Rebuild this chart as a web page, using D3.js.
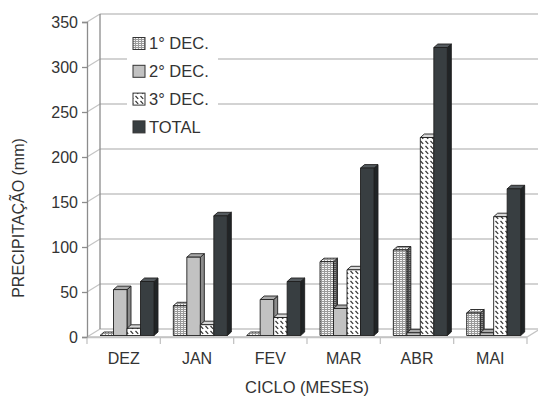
<!DOCTYPE html>
<html>
<head>
<meta charset="utf-8">
<script src="https://cdn.jsdelivr.net/npm/d3@7"></script>
<style>
  html, body { margin: 0; padding: 0; background: #fff; }
  svg { display: block; font-family: "Liberation Sans", Arial, sans-serif; }
</style>
</head>
<body>
<svg id="chart" width="538" height="396"></svg>
<script>
// Monthly rainfall by ten-day period (decêndio) and monthly total, mm
const months = ["DEZ", "JAN", "FEV", "MAR", "ABR", "MAI"];
const seriesNames = ["1° DEC.", "2° DEC.", "3° DEC.", "TOTAL"];
const dec1  = [0, 33, 0, 82, 95, 25];
const dec2  = [51, 87, 40, 30, 3, 3];
const dec3  = [8, 12, 20, 73, 220, 132];
const total = [60, 133, 60, 186, 320, 163];
const yTicks = [0, 50, 100, 150, 200, 250, 300, 350];

const seriesValues = [dec1, dec2, dec3, total];

const svg = d3.select("#chart");
const defs = svg.append("defs");

// fill patterns
const p1 = defs.append("pattern").attr("id", "pat1").attr("patternUnits", "userSpaceOnUse")
  .attr("width", 3).attr("height", 2);
p1.append("rect").attr("width", 3).attr("height", 2).attr("fill", "#9a9a9a");
p1.append("rect").attr("x", 1).attr("y", 0).attr("width", 2).attr("height", 1).attr("fill", "#f6f6f6");

const p1s = defs.append("pattern").attr("id", "pat1s").attr("patternUnits", "userSpaceOnUse")
  .attr("width", 3).attr("height", 2);
p1s.append("rect").attr("width", 3).attr("height", 2).attr("fill", "#4a4a4a");
p1s.append("rect").attr("x", 1).attr("y", 0).attr("width", 2).attr("height", 1).attr("fill", "#8a8a8a");

const p3 = defs.append("pattern").attr("id", "pat3").attr("patternUnits", "userSpaceOnUse")
  .attr("width", 5).attr("height", 5);
p3.append("rect").attr("width", 5).attr("height", 5).attr("fill", "#ffffff");
p3.append("path").attr("d", "M0.5,1 L3.2,3.8").attr("stroke", "#333").attr("stroke-width", 1.2);

const p3s = defs.append("pattern").attr("id", "pat3s").attr("patternUnits", "userSpaceOnUse")
  .attr("width", 5).attr("height", 5);
p3s.append("rect").attr("width", 5).attr("height", 5).attr("fill", "#9a9a9a");
p3s.append("path").attr("d", "M0.5,1 L3.2,3.8").attr("stroke", "#333").attr("stroke-width", 1.2);

const styles = [
  { front: "url(#pat1)", top: "url(#pat1)", side: "url(#pat1s)" },
  { front: "#c2c2c2", top: "#a9a9a9", side: "#8c8c8c" },
  { front: "url(#pat3)", top: "#d8d8d8", side: "url(#pat3s)" },
  { front: "#383e41", top: "#545a5e", side: "#202426" }
];

// layout
const left = 87, right = 527, yBottom = 337, yTop = 22;
const depthX = 13, depthY = -8;     // wall depth
const barShiftX = 0, barShiftY = -1.5;
const barDX = 4, barDY = -3.5;      // bar depth

const x = d3.scaleBand().domain(months).range([left, right]);
const xs = d3.scaleBand().domain(seriesNames).range([13, 67]);
const y = d3.scaleLinear().domain([0, 350]).range([yBottom, yTop]);

const gridColor = "#c4c4c4", axisColor = "#8c8c8c", textColor = "#333";

// back wall gridlines and left wall
const grid = svg.append("g");
yTicks.forEach(v => {
  const yy = y(v);
  grid.append("line").attr("x1", left).attr("y1", yy).attr("x2", left + depthX).attr("y2", yy + depthY)
    .attr("stroke", gridColor).attr("stroke-width", 1.3);
  grid.append("line").attr("x1", left + depthX).attr("y1", yy + depthY).attr("x2", 540).attr("y2", yy + depthY)
    .attr("stroke", gridColor).attr("stroke-width", 1.5);
});
grid.append("line").attr("x1", left + depthX).attr("x2", left + depthX)
  .attr("y1", y(0) + depthY).attr("y2", y(350) + depthY)
  .attr("stroke", axisColor).attr("stroke-width", 1.3);

// floor
svg.append("path")
  .attr("d", `M${left},${yBottom} L${right},${yBottom} L${right + depthX},${yBottom + depthY}`)
  .attr("fill", "none").attr("stroke", gridColor).attr("stroke-width", 1.3);

// y axis
const yAxis = svg.append("g").attr("transform", `translate(${left},0)`)
  .call(d3.axisLeft(y).tickValues(yTicks).tickSize(5).tickPadding(4).tickFormat(d3.format("d")));
yAxis.select(".domain").attr("stroke", axisColor).attr("stroke-width", 1.3);
yAxis.selectAll(".tick line").attr("stroke", axisColor).attr("stroke-width", 1.3);
yAxis.selectAll(".tick text").attr("fill", textColor).style("font-size", "16px")
  .style("font-family", "'Liberation Sans', Arial, sans-serif");

// x axis
const xAxis = svg.append("g").attr("transform", `translate(0,${yBottom})`)
  .call(d3.axisBottom(x).tickSize(0).tickPadding(16));
xAxis.select(".domain").attr("stroke", gridColor).attr("stroke-width", 1.3);
xAxis.selectAll(".tick text").attr("fill", textColor).style("font-size", "16px")
  .style("font-family", "'Liberation Sans', Arial, sans-serif");
const bounds = months.map(m => x(m)).concat([right]);
xAxis.selectAll(".sep").data(bounds).join("line").attr("class", "sep")
  .attr("x1", d => d).attr("x2", d => d).attr("y1", 1).attr("y2", 7)
  .attr("stroke", gridColor).attr("stroke-width", 1.3);

// legend
const legend = svg.append("g");
legend.append("rect").attr("x", 127).attr("y", 29).attr("width", 91).attr("height", 112).attr("fill", "#fff");
seriesNames.forEach((name, i) => {
  const cy = 43.5 + i * 27.8;
  legend.append("rect").attr("x", 133).attr("y", cy - 6).attr("width", 12).attr("height", 12)
    .attr("fill", styles[i].front).attr("stroke", "#333").attr("stroke-width", 1);
  legend.append("text").attr("x", 149).attr("y", cy).attr("dy", "0.35em")
    .attr("fill", textColor).style("font-size", "16.5px").text(name);
});

// 3D bars
const bars = svg.append("g");
months.forEach((m, mi) => {
  seriesNames.forEach((s, si) => {
    const v = seriesValues[si][mi];
    const x0 = x(m) + xs(s) + barShiftX;
    const w = xs.bandwidth();
    const base = y(0) + barShiftY;
    const top = y(v) + barShiftY;
    const g = bars.append("g").attr("stroke", "#1f1f1f").attr("stroke-width", 0.9).attr("stroke-linejoin", "round");
    g.append("path")
      .attr("d", `M${x0 + w},${top} L${x0 + w + barDX},${top + barDY} L${x0 + w + barDX},${base + barDY} L${x0 + w},${base} Z`)
      .attr("fill", styles[si].side);
    g.append("path")
      .attr("d", `M${x0},${top} L${x0 + w},${top} L${x0 + w + barDX},${top + barDY} L${x0 + barDX},${top + barDY} Z`)
      .attr("fill", styles[si].top);
    if (base - top > 0.5) {
      g.append("rect").attr("x", x0).attr("y", top).attr("width", w).attr("height", base - top)
        .attr("fill", styles[si].front);
    }
  });
});

// axis titles
svg.append("text").attr("x", (left + right) / 2).attr("y", 393).attr("text-anchor", "middle")
  .attr("fill", textColor).style("font-size", "16.5px").text("CICLO (MESES)");
svg.append("text").attr("transform", "translate(24,218) rotate(-90)").attr("text-anchor", "middle")
  .attr("fill", textColor).style("font-size", "16px").text("PRECIPITAÇÃO (mm)");
</script>
</body>
</html>
